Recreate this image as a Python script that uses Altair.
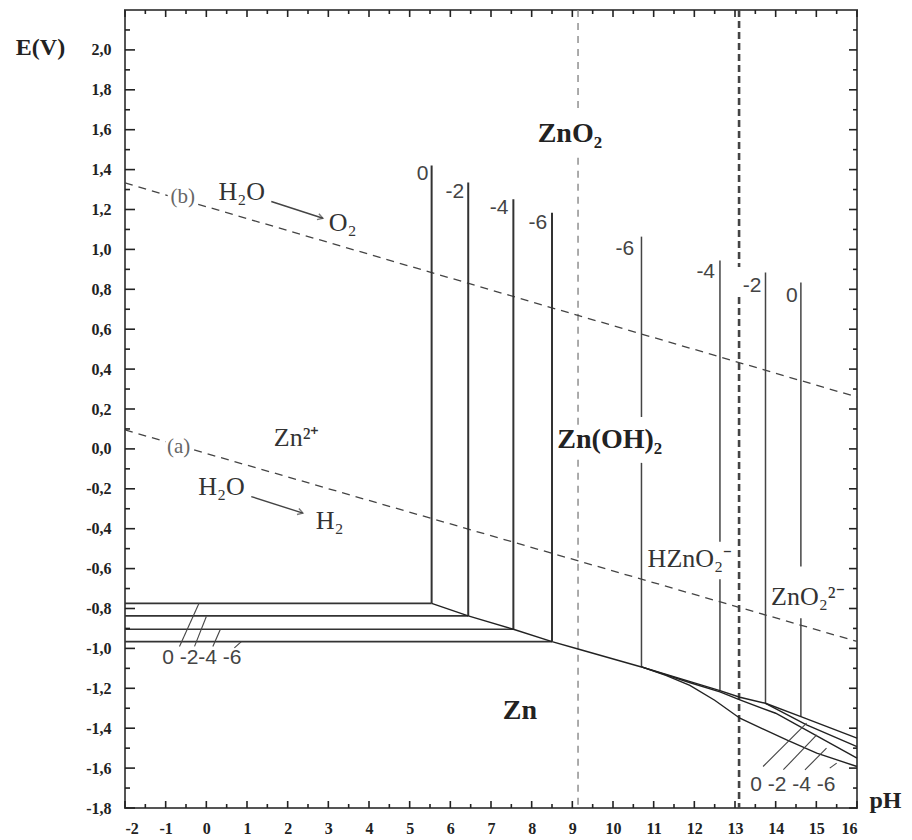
import altair as alt
import pandas as pd

# ---------------- axes ----------------
PH_DOMAIN = [-2, 16]
E_DOMAIN = [-1.8, 2.2]
PH_MAJOR = [-2, -1, 0, 1, 2, 3, 4, 5, 6, 7, 8, 9, 10, 11, 12, 13, 14, 15, 16]
PH_MINOR = [-1.5, -0.5, 0.5, 1.5, 2.5, 3.5, 4.5, 5.5, 6.5, 7.5, 8.5, 9.5,
            10.5, 11.5, 12.5, 13.5, 14.5, 15.5]
E_MAJOR = [-1.8, -1.6, -1.4, -1.2, -1.0, -0.8, -0.6, -0.4, -0.2, 0.0,
           0.2, 0.4, 0.6, 0.8, 1.0, 1.2, 1.4, 1.6, 1.8, 2.0]
E_MINOR = [-1.7, -1.5, -1.3, -1.1, -0.9, -0.7, -0.5, -0.3, -0.1, 0.1,
           0.3, 0.5, 0.7, 0.9, 1.1, 1.3, 1.5, 1.7, 1.9, 2.1]

# ---------------- Zn2+ / Zn (horizontal lines), log c = 0,-2,-4,-6 ----------------
LOGC = ["0", "-2", "-4", "-6"]
ZN2_E = [-0.774, -0.837, -0.904, -0.966]
ZN2_CORNER_PH = [5.54, 6.44, 7.55, 8.50]
LEFT_V_TOP = [1.42, 1.335, 1.252, 1.184]

# ---------------- Zn(OH)2 / HZnO2- / ZnO2 2- verticals ----------------
RIGHT_V_PH = [10.70, 12.63, 13.75, 14.62]
RIGHT_V_TOP = [1.064, 0.944, 0.884, 0.834]
RIGHT_V_BOTTOM = [-1.093, -1.212, -1.275, -1.342]
RIGHT_V_GAP = [(0.16, -0.07), (-0.465, -0.653), None, (-0.59, -0.849)]

# ---------------- metal boundary lines ----------------
ZNOH_PH = [5.54, 6.44, 7.55, 8.50, 9.14, 10.70]
ZNOH_E = [-0.774, -0.837, -0.904, -0.966, -1.003, -1.093]
FAN0_PH = [10.70, 12.63, 13.12, 13.75, 14.62, 16.0]
FAN0_E = [-1.093, -1.212, -1.245, -1.275, -1.342, -1.45]
FAN2_PH = [13.75, 14.76, 16.0]
FAN2_E = [-1.275, -1.383, -1.492]
FAN4_PH = [10.70, 11.90, 12.63, 13.12, 14.0, 16.0]
FAN4_E = [-1.093, -1.172, -1.218, -1.258, -1.325, -1.55]
FAN6_PH = [10.70, 11.30, 11.89, 12.50, 13.12, 14.27, 15.01, 16.0]
FAN6_E = [-1.093, -1.135, -1.185, -1.26, -1.35, -1.459, -1.525, -1.592]

# ---------------- water lines (a) H2 and (b) O2 ----------------
WATER_B = [[(-2, 1.333), (-0.95, 1.27)], [(-0.2, 1.226), (16, 0.26)]]
WATER_A = [[(-2, 0.095), (-1.0, 0.036)], [(-0.3, -0.005), (16, -0.965)]]

# ---------------- dashed verticals ----------------
VD1_PH = 9.14
VD1_SEG = [(2.2, 1.684), (1.459, 0.12), (-0.055, -1.8)]
VD2_PH = 13.10
VD2_SEG = [(2.2, 0.912), (0.762, -1.8)]

# ---------------- label leader strokes ----------------
STROKES = [
    [(-0.66, -0.99), (-0.18, -0.774)], [(-0.29, -0.99), (0.0, -0.84)],
    [(0.16, -0.99), (0.34, -0.907)], [(0.69, -0.997), (0.86, -0.966)],
    [(13.69, -1.592), (14.76, -1.375)], [(14.19, -1.608), (15.01, -1.434)],
    [(14.72, -1.609), (15.25, -1.50)], [(15.33, -1.60), (15.50, -1.575)],
]

# ---------------- arrows ----------------
ARROWS = [[(1.597, 1.240), (2.867, 1.156)], [(1.105, -0.239), (2.375, -0.322)]]

# ---------------- text ----------------
BOLD_LABELS = ["ZnO₂", "Zn(OH)₂", "Zn"]
BOLD_PH = [8.94, 9.92, 7.71]
BOLD_E = [1.58, 0.045, -1.313]

SERIF_LABELS = ["Zn²⁺", "H₂O", "O₂", "H₂O", "H₂", "HZnO₂⁻", "ZnO₂²⁻"]
SERIF_PH = [2.22, 0.87, 3.35, 0.375, 3.03, 11.89, 14.79]
SERIF_E = [0.055, 1.29, 1.13, -0.19, -0.36, -0.55, -0.742]

SMALL_LABELS = ["(a)", "(b)"]
SMALL_PH = [-0.68, -0.578]
SMALL_E = [0.01, 1.265]

NUM_LABELS = ["0", "-2", "-4", "-6", "-6", "-4", "-2", "0", "0 -2-4 -6", "0 -2 -4 -6"]
NUM_PH = [5.32, 6.11, 7.20, 8.15, 10.29, 12.28, 13.42, 14.40, -0.11, 14.42]
NUM_E = [1.378, 1.288, 1.208, 1.133, 1.0, 0.885, 0.817, 0.767, -1.05, -1.684]

W, H = 732, 798
# inward tick lengths, expressed in axis units
XT_MAJOR, XT_MINOR = 0.035, 0.02       # E units (for pH ticks on bottom/top)
YT_MAJOR_L, YT_MINOR_L = 0.246, 0.123  # pH units (left)
YT_MAJOR_R, YT_MINOR_R = 0.197, 0.098  # pH units (right)


def lines_df(segments, prefix):
    rows = []
    for sid, pts in enumerate(segments):
        for k, (p, e) in enumerate(pts):
            rows.append({"id": f"{prefix}{sid}", "pH": p, "E": e, "ord": k})
    return pd.DataFrame(rows)


XS = alt.Scale(domain=PH_DOMAIN, nice=False, zero=False)
YS = alt.Scale(domain=E_DOMAIN, nice=False, zero=False)

x_label_expr = "(datum.value < 0 ? '-' : '') + abs(datum.value)"
y_label_expr = "(datum.value < -0.001 ? '-' : '') + replace(format(abs(datum.value), '.1f'), '.', ',')"

XAX = alt.Axis(orient="bottom", values=PH_MAJOR, ticks=False, tickSize=0,
               domain=False, grid=False,
               labelExpr=x_label_expr, labelPadding=12, title="pH",
               titleX=760, titleY=-8, titleAlign="center", titleBaseline="middle")
YAX = alt.Axis(orient="left", values=E_MAJOR, ticks=False, tickSize=0,
               domain=False, grid=False,
               labelExpr=y_label_expr, labelPadding=14, title="E(V)",
               titleX=-85, titleY=37, titleAngle=0, titleAlign="center",
               titleBaseline="middle")


def X():
    return alt.X("pH:Q", scale=XS, axis=XAX)


def Y():
    return alt.Y("E:Q", scale=YS, axis=YAX)


def line_layer(df, color, width, dash=None):
    mk = dict(color=color, strokeWidth=width)
    if dash:
        mk["strokeDash"] = dash
    return alt.Chart(df).mark_line(**mk).encode(
        x=X(), y=Y(), detail="id:N", order="ord:Q")


def text_layer(labels, phs, es, font, size, weight, color):
    df = pd.DataFrame({"label": labels, "pH": phs, "E": es})
    return alt.Chart(df).mark_text(font=font, fontSize=size, fontWeight=weight,
                                   color=color, align="center", baseline="middle").encode(
        x=X(), y=Y(), text="label:N")


# tick segments (inward) on all four sides
tick_segs = []
for v in PH_MAJOR:
    tick_segs.append([(v, E_DOMAIN[0]), (v, E_DOMAIN[0] + XT_MAJOR)])
    tick_segs.append([(v, E_DOMAIN[1]), (v, E_DOMAIN[1] - XT_MAJOR)])
for v in PH_MINOR:
    tick_segs.append([(v, E_DOMAIN[0]), (v, E_DOMAIN[0] + XT_MINOR)])
    tick_segs.append([(v, E_DOMAIN[1]), (v, E_DOMAIN[1] - XT_MINOR)])
for v in E_MAJOR:
    tick_segs.append([(PH_DOMAIN[0], v), (PH_DOMAIN[0] + YT_MAJOR_L, v)])
    tick_segs.append([(PH_DOMAIN[1], v), (PH_DOMAIN[1] - YT_MAJOR_R, v)])
for v in E_MINOR:
    tick_segs.append([(PH_DOMAIN[0], v), (PH_DOMAIN[0] + YT_MINOR_L, v)])
    tick_segs.append([(PH_DOMAIN[1], v), (PH_DOMAIN[1] - YT_MINOR_R, v)])
ticks = lines_df(tick_segs, "t")

# build segment tables
horiz = lines_df([[(-2, e), (p, e)] for e, p in zip(ZN2_E, ZN2_CORNER_PH)], "h")
left_v = lines_df([[(p, t), (p, b)] for p, t, b in zip(ZN2_CORNER_PH, LEFT_V_TOP, ZN2_E)], "lv")
rv = []
for p, t, b, g in zip(RIGHT_V_PH, RIGHT_V_TOP, RIGHT_V_BOTTOM, RIGHT_V_GAP):
    if g is None:
        rv.append([(p, t), (p, b)])
    else:
        rv.append([(p, t), (p, g[0])])
        rv.append([(p, g[1]), (p, b)])
right_v = lines_df(rv, "rv")
metal = lines_df([list(zip(ZNOH_PH, ZNOH_E)), list(zip(FAN0_PH, FAN0_E)),
                  list(zip(FAN2_PH, FAN2_E)), list(zip(FAN4_PH, FAN4_E)),
                  list(zip(FAN6_PH, FAN6_E))], "m")
water = lines_df(WATER_B + WATER_A, "w")
vd1 = lines_df([[(VD1_PH, a), (VD1_PH, b)] for a, b in VD1_SEG], "d")
vd2 = lines_df([[(VD2_PH, a), (VD2_PH, b)] for a, b in VD2_SEG], "D")
strokes = lines_df(STROKES, "s")
arrows = lines_df(ARROWS, "a")
heads = pd.DataFrame({"pH": [a[1][0] for a in ARROWS], "E": [a[1][1] for a in ARROWS]})

layers = [
    line_layer(vd1, "#888", 1.4, dash=[7, 6]),
    line_layer(vd2, "#444", 2.6, dash=[7, 4]),
    line_layer(water, "#444", 1.3, dash=[8, 6]),
    line_layer(horiz, "#333", 1.7),
    line_layer(left_v, "#333", 2.0),
    line_layer(right_v, "#444", 1.5),
    line_layer(metal, "#222", 1.4),
    line_layer(strokes, "#444", 1.1),
    line_layer(arrows, "#444", 1.4),
    line_layer(ticks, "#222", 1.6),
    alt.Chart(heads).mark_point(shape="M-1,-0.6L0,0L-1,0.6", size=110, angle=18,
                                filled=False, color="#444", strokeWidth=1.4).encode(
        x=X(), y=Y()),
    text_layer(BOLD_LABELS, BOLD_PH, BOLD_E, "Liberation Serif", 28, "bold", "#222"),
    text_layer(SERIF_LABELS, SERIF_PH, SERIF_E, "Liberation Serif", 26, "normal", "#333"),
    text_layer(SMALL_LABELS, SMALL_PH, SMALL_E, "Liberation Serif", 21, "normal", "#666"),
    text_layer(NUM_LABELS, NUM_PH, NUM_E, "Liberation Sans Narrow, Liberation Sans", 21, "normal", "#444"),
]

chart = alt.layer(*layers).properties(
    width=W, height=H,
    autosize=alt.AutoSizeParams(type="none"),
    padding={"left": 117, "top": 2, "right": 47, "bottom": 30},
).configure_view(stroke="#555", strokeWidth=2).configure_axis(
    labelFont="Liberation Serif", labelFontWeight="bold", labelFontSize=16,
    labelColor="#222", titleFont="Liberation Serif", titleFontWeight="bold",
    titleFontSize=24, titleColor="#222")

chart.save("out.html", embed_options={"renderer": "svg", "actions": False})
